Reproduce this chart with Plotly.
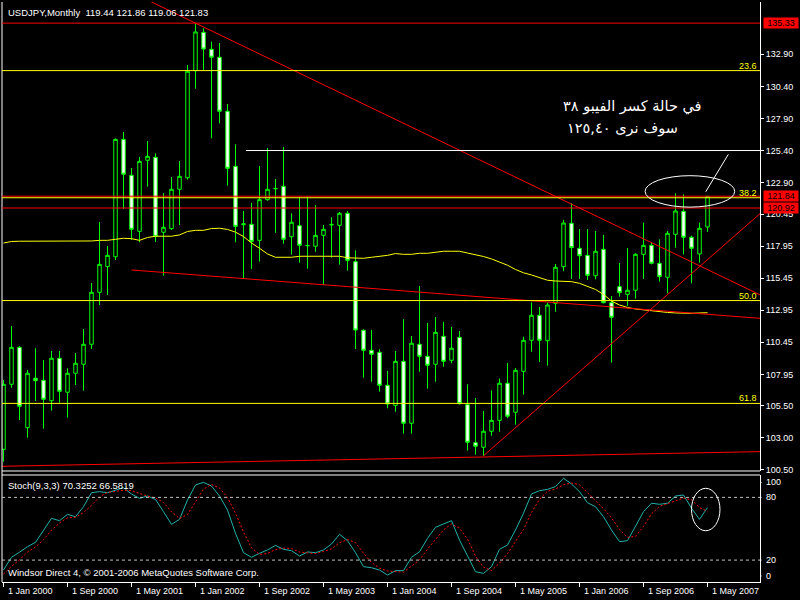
import plotly.graph_objects as go

# ---------------- data ----------------
tick_idx = [0, 8, 16, 24, 32, 40, 48, 56, 64, 72, 80, 88]
tick_labels = ["1 Jan 2000", "1 Sep 2000", "1 May 2001", "1 Jan 2002", "1 Sep 2002", "1 May 2003",
               "1 Jan 2004", "1 Sep 2004", "1 May 2005", "1 Jan 2006", "1 Sep 2006", "1 May 2007"]

opens = [102.11, 107.18, 110.06, 103.80, 107.65, 107.49, 105.90, 109.21, 106.56, 108.04,
         108.74, 110.30, 114.35, 116.35, 117.12, 126.27, 123.47, 119.10, 124.64, 124.87,
         119.03, 119.31, 122.38, 123.28, 131.62, 134.61, 133.29, 132.67, 128.46, 124.17,
         119.62, 119.65, 118.40, 121.57, 122.42, 122.61, 118.68, 119.54, 117.98, 117.94,
         118.79, 119.60, 119.57, 120.51, 116.74, 111.39, 109.83, 109.67, 107.10, 105.54,
         108.97, 104.14, 110.30, 109.36, 108.74, 110.92, 109.05, 110.84, 105.59, 102.63,
         102.27, 103.52, 104.37, 107.26, 105.00, 108.19, 110.61, 112.56, 110.58, 113.49,
         116.35, 119.73, 117.78, 117.23, 115.64, 117.70, 113.54, 114.79, 114.19, 114.51,
         117.31, 118.01, 116.61, 115.52, 118.87, 120.66, 118.64, 117.34, 119.44]
highs = [107.51, 111.72, 110.16, 108.29, 109.99, 109.07, 109.77, 109.77, 108.43, 109.62,
         111.49, 115.07, 119.83, 117.96, 126.34, 126.84, 124.04, 124.90, 126.14, 125.18,
         122.09, 123.34, 124.58, 132.07, 135.33, 134.93, 133.88, 133.78, 129.03, 125.88,
         120.69, 121.31, 124.19, 125.60, 123.18, 125.67, 120.51, 121.70, 121.86, 121.15,
         119.60, 120.20, 120.61, 120.69, 117.62, 111.47, 111.41, 109.91, 108.22, 109.77,
         112.25, 110.94, 114.84, 111.96, 112.42, 112.04, 111.65, 111.33, 107.18, 106.11,
         105.10, 106.71, 107.62, 108.84, 108.45, 110.89, 113.57, 113.20, 113.54, 116.56,
         120.00, 121.29, 119.28, 119.28, 119.13, 118.82, 114.06, 116.63, 117.80, 117.39,
         119.77, 118.22, 118.48, 119.13, 122.07, 121.99, 118.76, 119.77, 121.86]
lows = [101.15, 106.91, 104.40, 103.02, 105.88, 103.72, 105.12, 105.75, 104.58, 107.12,
        106.68, 109.93, 113.36, 114.14, 116.87, 120.84, 118.43, 118.25, 122.58, 118.27,
        115.64, 119.21, 119.60, 123.13, 130.22, 131.68, 126.35, 127.52, 122.66, 118.25,
        115.39, 116.17, 116.74, 121.49, 118.99, 118.14, 117.28, 116.66, 116.19, 117.51,
        114.92, 117.05, 116.50, 116.03, 109.93, 107.69, 107.38, 106.60, 105.31, 105.04,
        103.33, 103.33, 108.16, 106.84, 107.38, 108.55, 108.82, 105.60, 102.00, 101.69,
        101.61, 103.17, 103.49, 104.53, 104.03, 106.37, 109.72, 108.92, 108.63, 112.84,
        116.00, 115.39, 115.39, 115.31, 115.36, 113.49, 108.86, 114.01, 113.28, 113.85,
        115.39, 116.53, 115.18, 114.27, 117.83, 117.31, 115.05, 116.66, 119.06]
closes = [107.18, 110.06, 105.46, 108.04, 107.46, 106.01, 109.21, 106.63, 108.04, 108.82,
          110.30, 114.35, 116.53, 117.23, 126.27, 123.55, 119.26, 124.56, 124.95, 118.71,
          119.42, 122.38, 123.39, 131.58, 134.64, 133.31, 132.67, 128.46, 124.01, 119.49,
          119.68, 118.32, 121.57, 122.38, 122.44, 118.48, 119.81, 118.01, 118.00, 118.79,
          119.26, 119.64, 120.51, 116.84, 111.41, 109.83, 109.52, 107.10, 105.64, 108.97,
          104.14, 110.38, 109.36, 108.66, 111.23, 108.97, 109.99, 105.67, 102.66, 102.35,
          103.52, 104.37, 107.26, 104.69, 108.27, 110.61, 112.56, 110.61, 113.36, 116.30,
          119.75, 117.83, 117.20, 115.67, 117.55, 113.54, 112.40, 114.32, 114.51, 117.31,
          118.01, 116.61, 115.57, 118.95, 120.69, 118.64, 117.78, 119.34, 121.83]
moving_avg = [118.19, 118.31, 118.33, 118.33, 118.33, 118.33, 118.33, 118.33, 118.33, 118.33,
              118.33, 118.35, 118.40, 118.40, 118.48, 118.56, 118.53, 118.40, 118.62, 118.72,
              118.72, 118.72, 118.82, 119.09, 119.18, 119.18, 119.32, 119.34, 119.25, 119.04,
              118.70, 118.19, 117.78, 117.34, 117.08, 117.08, 117.08, 117.16, 117.16, 117.16,
              117.16, 117.16, 117.16, 117.04, 117.00, 117.00, 117.08, 117.16, 117.23, 117.37,
              117.31, 117.31, 117.39, 117.39, 117.49, 117.55, 117.55, 117.55, 117.41, 117.30,
              117.14, 116.95, 116.71, 116.46, 116.13, 115.87, 115.70, 115.49, 115.29, 115.23,
              115.21, 115.18, 115.05, 114.84, 114.57, 114.18, 113.67, 113.36, 113.17, 113.05,
              112.97, 112.91, 112.83, 112.78, 112.74, 112.72, 112.71, 112.74, 112.76]
stoch_main = [10.5, 22.7, 27.6, 32.8, 37.0, 48.8, 60.0, 57.7, 63.8, 61.5,
              71.1, 84.5, 85.5, 84.5, 87.0, 89.3, 83.2, 79.1, 81.3, 78.1,
              66.3, 54.2, 59.0, 77.5, 91.9, 94.4, 90.9, 81.3, 67.9, 45.6,
              27.1, 22.7, 26.5, 29.7, 34.1, 30.3, 29.0, 23.9, 27.8, 27.1,
              29.7, 35.4, 44.7, 38.6, 27.1, 13.7, 12.7, 10.5, 5.7, 9.9,
              9.9, 22.7, 28.0, 40.8, 51.4, 54.5, 57.7, 39.2, 23.3, 8.9,
              7.3, 13.7, 30.3, 34.4, 48.8, 64.8, 83.3, 86.4, 87.7, 90.3,
              98.3, 92.8, 85.5, 74.9, 71.1, 61.5, 48.8, 37.6, 38.6, 52.0,
              66.3, 74.4, 73.4, 74.4, 81.3, 82.3, 69.6, 59.0, 70.33]
stoch_signal = [6.7, 14.0, 20.3, 27.7, 32.5, 39.5, 48.6, 55.5, 60.5, 61.0,
                65.5, 72.4, 80.4, 84.8, 85.7, 86.9, 86.5, 83.9, 81.2, 79.5,
                75.2, 66.2, 59.8, 63.6, 76.1, 87.9, 92.4, 88.9, 80.0, 64.9,
                46.9, 31.8, 25.4, 26.3, 30.1, 31.4, 31.1, 27.7, 26.9, 26.3,
                28.2, 30.7, 36.6, 39.6, 36.8, 26.5, 17.8, 12.3, 9.6, 8.7,
                8.5, 14.2, 20.2, 30.5, 40.1, 48.9, 54.5, 50.5, 40.1, 23.8,
                13.2, 10.0, 17.1, 26.1, 37.8, 49.3, 65.6, 78.2, 85.8, 88.1,
                92.1, 93.8, 92.2, 84.4, 77.2, 69.2, 60.5, 49.3, 41.7, 42.7,
                52.3, 64.2, 71.4, 74.1, 76.4, 79.3, 77.7, 70.3, 66.58]

price_ticks = [132.90, 130.40, 127.90, 125.40, 122.90, 120.45, 117.95, 115.45,
               112.95, 110.45, 107.95, 105.50, 103.00, 100.50]
fibo_levels = [131.63, 121.72, 113.705, 105.69]
fibo_labels = ["23.6", "38.2", "50.0", "61.8"]
red_levels = [135.33, 121.84, 120.92]
target_level = 125.40
target_start = 30.3
stoch_levels = [80, 20]
stoch_axis_labels = ["100", "80", "20", "0"]

trend_desc_x = [18.0, 94.5625]
trend_desc_y = [137.13, 114.15]
trend_mid_x = [16.0, 94.5625]
trend_mid_y = [116.09, 112.32]
trend_base_x = [-0.1875, 94.5625]
trend_base_y = [100.79, 101.93]
trend_up_x = [60.0, 94.5625]
trend_up_y = [101.61, 120.48]
pointer_x = [90.6, 87.78]
pointer_y = [125.10, 122.19]
ellipse_main = dict(x0=80.2, x1=91.4, y0=120.99, y1=123.44)
ellipse_stoch = dict(x0=86.0, x1=89.56, y0=48.1, y1=88.7)

title_text = "USDJPY,Monthly\u00a0\u00a0119.44 121.86 119.06 121.83"
stoch_title = "Stoch(9,3,3) 70.3252 66.5819"
copyright_text = "Windsor Direct 4, \u00a9 2001-2006 MetaQuotes Software Corp."
arabic_line1 = "في حالة كسر الفيبو ٣٨"
arabic_line2 = "سوف نرى ١٢٥,٤٠"

# ---------------- figure ----------------
x = list(range(len(opens)))
XR = [-0.1875, 94.5625]
FONT = "Liberation Sans, Arial, sans-serif"
WHITE = "#FFFFFF"
LIME = "#00FF00"
RED = "#FF0000"
YEL = "#FFFF00"

fig = go.Figure()

fig.add_trace(go.Candlestick(
    x=x, open=opens, high=highs, low=lows, close=closes,
    increasing=dict(line=dict(color=LIME, width=1), fillcolor="#000000"),
    decreasing=dict(line=dict(color=LIME, width=1), fillcolor=WHITE),
    whiskerwidth=0, xaxis="x", yaxis="y", hoverinfo="skip"))

fig.add_trace(go.Scatter(x=x, y=moving_avg, mode="lines",
                         line=dict(color=YEL, width=1), xaxis="x", yaxis="y"))

for tx, ty in [(trend_desc_x, trend_desc_y), (trend_mid_x, trend_mid_y),
               (trend_base_x, trend_base_y), (trend_up_x, trend_up_y)]:
    fig.add_trace(go.Scatter(x=tx, y=ty, mode="lines", line=dict(color=RED, width=1),
                             xaxis="x", yaxis="y"))
fig.add_trace(go.Scatter(x=pointer_x, y=pointer_y, mode="lines",
                         line=dict(color=WHITE, width=1), xaxis="x", yaxis="y"))

fig.add_trace(go.Scatter(x=x, y=stoch_main, mode="lines",
                         line=dict(color="#20B2AA", width=1), xaxis="x2", yaxis="y2"))
fig.add_trace(go.Scatter(x=x, y=stoch_signal, mode="lines",
                         line=dict(color=RED, width=1, dash="2px,2px"), xaxis="x2", yaxis="y2"))

shapes = []
# borders
shapes.append(dict(type="line", xref="paper", yref="paper", x0=0, x1=0, y0=0, y1=1,
                   line=dict(color=WHITE, width=1)))
shapes.append(dict(type="line", xref="paper", yref="paper", x0=0, x1=1, y0=0.1914, y1=0.1914,
                   line=dict(color=WHITE, width=1)))
shapes.append(dict(type="line", xref="paper", yref="paper", x0=0, x1=1, y0=0.1845, y1=0.1845,
                   line=dict(color=WHITE, width=1)))
# horizontal levels
for lv in fibo_levels:
    shapes.append(dict(type="line", xref="paper", yref="y", x0=0, x1=1, y0=lv, y1=lv,
                       line=dict(color=YEL, width=1)))
for lv in red_levels:
    shapes.append(dict(type="line", xref="paper", yref="y", x0=0, x1=1, y0=lv, y1=lv,
                       line=dict(color=RED, width=1)))
shapes.append(dict(type="line", xref="x", yref="y", x0=target_start, x1=XR[1],
                   y0=target_level, y1=target_level, line=dict(color=WHITE, width=1)))
shapes.append(dict(type="circle", xref="x", yref="y", line=dict(color=WHITE, width=1),
                   **ellipse_main))
for lv in stoch_levels:
    shapes.append(dict(type="line", xref="paper", yref="y2", x0=0, x1=1, y0=lv, y1=lv,
                       line=dict(color="#C0C0C0", width=1, dash="3px,3px")))
shapes.append(dict(type="circle", xref="x2", yref="y2", line=dict(color=WHITE, width=1),
                   **ellipse_stoch))

ann = []
ann.append(dict(text=title_text, xref="paper", yref="paper", x=0, y=1, xanchor="left",
                yanchor="top", xshift=4, yshift=-3, showarrow=False,
                font=dict(family=FONT, size=9.5, color=WHITE)))
for lv, lb in zip(fibo_levels, fibo_labels):
    ann.append(dict(text=lb, xref="paper", yref="y", x=1, y=lv, xanchor="right",
                    yanchor="bottom", xshift=-1, yshift=-2, showarrow=False,
                    font=dict(family=FONT, size=9, color=YEL)))
for lv in red_levels:
    ann.append(dict(text="%.2f" % lv, xref="paper", yref="y", x=1, y=lv, xanchor="left",
                    yanchor="middle", xshift=3, showarrow=False, bgcolor=RED,
                    width=34, height=10, borderpad=0,
                    font=dict(family=FONT, size=9, color="#000000")))
for xi, lb in zip(tick_idx, tick_labels):
    ann.append(dict(text=lb, xref="x2", yref="paper", x=xi, y=0, xanchor="left",
                    yanchor="top", xshift=2, yshift=-2, showarrow=False,
                    font=dict(family=FONT, size=9, color=WHITE)))
stoch_label_pos = [(100, -6), (80, 0), (20, 0), (0, 5)]
for (v, sh), lb in zip(stoch_label_pos, stoch_axis_labels):
    ann.append(dict(text=lb, xref="paper", yref="y2", x=1, y=v, xanchor="left",
                    yanchor="middle", xshift=4, yshift=sh, showarrow=False,
                    font=dict(family=FONT, size=9, color=WHITE)))
    ann.append(dict(text="", xref="paper", yref="y2", x=1, y=v, ax=3, ay=0, axref="pixel",
                    ayref="pixel", yshift=sh, showarrow=True, arrowhead=0, arrowwidth=1,
                    arrowcolor=WHITE, standoff=0, startstandoff=0))
ann.append(dict(text=stoch_title, xref="paper", yref="y2", x=0, y=101.44, xanchor="left",
                yanchor="top", xshift=4, yshift=-3, showarrow=False,
                font=dict(family=FONT, size=9.5, color=WHITE)))
ann.append(dict(text=copyright_text, xref="paper", yref="paper", x=0, y=0, xanchor="left",
                yanchor="bottom", xshift=4, yshift=2, showarrow=False,
                font=dict(family=FONT, size=9.5, color=WHITE)))
ann.append(dict(text=arabic_line1, xref="x", yref="y", x=78.6, y=128.87, xanchor="center",
                yanchor="middle", showarrow=False,
                font=dict(family="DejaVu Sans", size=14.5, color=WHITE)))
ann.append(dict(text=arabic_line2, xref="x", yref="y", x=77.4, y=127.08, xanchor="center",
                yanchor="middle", showarrow=False,
                font=dict(family="DejaVu Sans", size=14.5, color=WHITE)))

fig.update_layout(
    width=800, height=600,
    margin=dict(l=2, r=40, t=2, b=18),
    paper_bgcolor="#000000", plot_bgcolor="#000000",
    showlegend=False, boxgap=0.375, hovermode=False,
    xaxis=dict(domain=[0, 1], range=XR, anchor="y", showgrid=False, zeroline=False,
               showticklabels=False, showline=False, rangeslider=dict(visible=False)),
    yaxis=dict(domain=[0.1914, 1], range=[100.422, 136.977], anchor="x", side="right",
               showgrid=False, zeroline=False, tickvals=price_ticks,
               ticktext=["%.2f" % v for v in price_ticks], ticks="outside", ticklen=3,
               tickcolor=WHITE, tickfont=dict(family=FONT, size=9, color=WHITE),
               showline=True, linecolor=WHITE, linewidth=1),
    xaxis2=dict(domain=[0, 1], range=XR, anchor="y2", showgrid=False, zeroline=False,
                tickvals=tick_idx, ticks="outside", ticklen=4, tickcolor=WHITE,
                showticklabels=False, showline=True, linecolor=WHITE, linewidth=1),
    yaxis2=dict(domain=[0, 0.1845], range=[-0.96, 101.44], anchor="x2", side="right",
                showgrid=False, zeroline=False, showticklabels=False, ticks="",
                showline=True, linecolor=WHITE, linewidth=1),
    shapes=shapes, annotations=ann,
)

fig.write_html("out.html", config={"displayModeBar": False},
               post_script="document.body.style.margin='0px';document.body.style.overflow='hidden';")
